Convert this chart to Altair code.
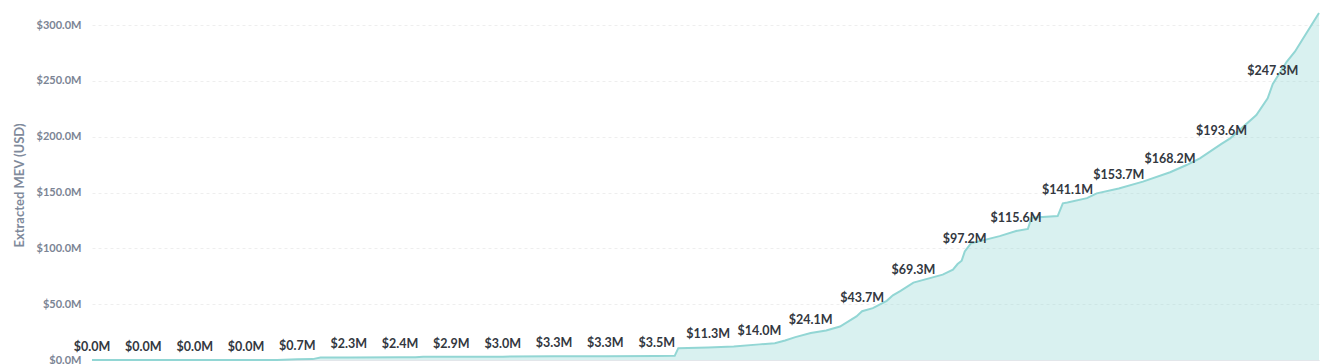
import altair as alt
import pandas as pd

# Cumulative extracted MEV (USD millions) along a month index (0 = first month)
line_month = [0, 1, 2, 3, 3.6, 4.0, 4.3, 4.45, 5, 6, 6.3, 6.45, 7, 8, 9, 10, 11,
              11.35, 11.42, 12, 12.5, 13, 13.3, 13.5, 13.7, 14, 14.3, 14.57, 14.89,
              15, 15.21, 15.48, 15.6, 15.75, 16, 16.57, 16.77, 16.86, 16.94, 17.0,
              17.12, 17.68, 18.0, 18.23, 18.3, 18.81, 18.91, 19.0, 19.38, 19.57,
              20.0, 20.47, 21.0, 21.32, 21.58, 22.0, 22.17, 22.68, 22.9, 23.0,
              23.27, 23.43, 23.59, 23.9]
line_value = [0.0, 0.0, 0.0, 0.0, 0.1, 0.7, 0.8, 2.2, 2.3, 2.4, 2.5, 2.85, 2.9, 3.0, 3.3, 3.3, 3.5,
              3.7, 10.6, 11.3, 12.2, 14.0, 15.0, 17.5, 20.5, 24.1, 26.5, 30.0, 39.0,
              43.7, 46.5, 53.0, 58.0, 62.0, 69.3, 76.5, 81.0, 86.0, 89.0, 97.2,
              104.5, 111.0, 115.6, 117.5, 127.5, 129.0, 140.4, 141.1, 145.0, 149.3,
              153.7, 159.8, 168.2, 174.7, 180.7, 193.6, 198.6, 219.5, 234.4, 247.3,
              267.2, 276.2, 288.0, 311.0]

# Monthly labels
label_month = list(range(24))
label_value = [0.0, 0.0, 0.0, 0.0, 0.7, 2.3, 2.4, 2.9, 3.0, 3.3, 3.3, 3.5,
               11.3, 14.0, 24.1, 43.7, 69.3, 97.2, 115.6, 141.1, 153.7, 168.2,
               193.6, 247.3]
label_text = ["$" + format(v, ".1f") + "M" for v in label_value]

line_df = pd.DataFrame({"month": line_month, "mev": line_value})
label_df = pd.DataFrame({"month": label_month, "mev": label_value, "label": label_text})

FONT = "Lato"
TEAL = "#92D6D4"

x_enc = alt.X("month:Q",
              scale=alt.Scale(domain=[0, 23.9], nice=False, zero=False),
              axis=alt.Axis(title=None, labels=False, ticks=False, grid=False,
                            domainColor="#e3e6ea", domainWidth=1))
y_enc = alt.Y("mev:Q",
              scale=alt.Scale(domain=[0, 313.6], nice=False),
              axis=alt.Axis(title="Extracted MEV (USD)",
                            values=[0, 50, 100, 150, 200, 250, 300],
                            labelExpr="'$' + format(datum.value, '.1f') + 'M'",
                            labelFont=FONT, labelFontSize=11, labelColor="#7b8494",
                            labelFontWeight="bold",
                            labelPadding=11, ticks=False, domain=False,
                            titleFont=FONT, titleFontSize=13, titleFontWeight="bold",
                            titleColor="#7f8a9b", titlePadding=10,
                            grid=True, gridColor="#eeeeee", gridDash=[3, 3]))

area = alt.Chart(line_df).mark_area(color=TEAL, opacity=0.35, interpolate="linear").encode(
    x=x_enc, y=y_enc)
line = alt.Chart(line_df).mark_line(color=TEAL, strokeWidth=2, interpolate="linear").encode(
    x="month:Q", y="mev:Q")
labels = alt.Chart(label_df).mark_text(
    font=FONT, fontSize=12.5, fontWeight="bold", color="#33383f",
    align="center", baseline="middle", dy=-13
).encode(x="month:Q", y="mev:Q", text="label:N")

chart = alt.layer(area, line, labels).properties(
    width=1227, height=350,
    padding={"left": 5, "top": 0, "right": 5, "bottom": 5}
).configure(font=FONT).configure_view(stroke=None)

chart.save("out.html", embed_options={"renderer": "svg", "actions": False})
